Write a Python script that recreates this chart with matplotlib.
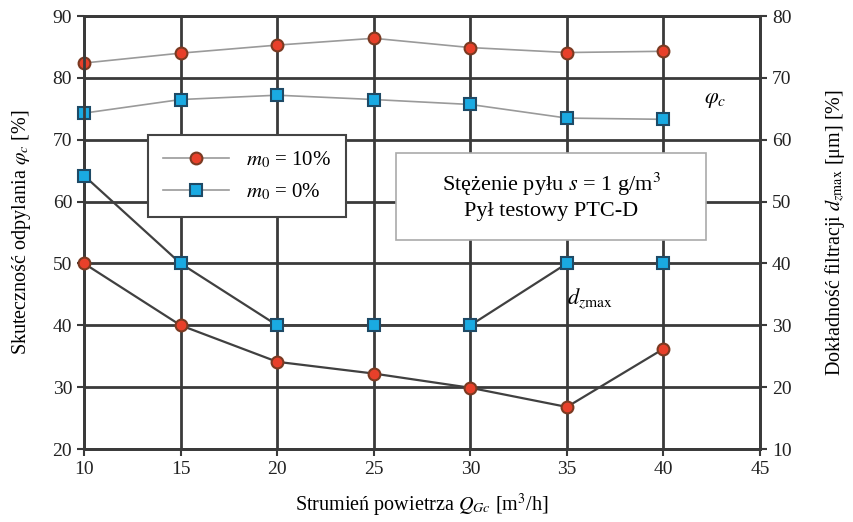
import matplotlib
matplotlib.use("Agg")
import matplotlib.pyplot as plt
from matplotlib.lines import Line2D
from matplotlib.patches import Rectangle

plt.rcParams['font.family'] = ['Liberation Serif', 'DejaVu Serif']
plt.rcParams['mathtext.fontset'] = 'stix'

x = [10, 15, 20, 25, 30, 35, 40]
phi_m10 = [82.4, 84.0, 85.3, 86.4, 84.9, 84.1, 84.3]
phi_m0 = [74.3, 76.5, 77.2, 76.5, 75.7, 73.5, 73.3]
d_m0 = [54.2, 40, 30, 30, 30, 40, 40]
d_m10 = [40, 30, 24.1, 22.2, 19.9, 16.8, 26.2]

red_face = '#E8402A'
red_edge = '#7A3A22'
blue_face = '#1AAAE2'
blue_edge = '#1E4A66'
grid_c = '#3a3a3a'
ms = 8.5

fig = plt.figure(figsize=(8.54, 5.22), dpi=100)
ax = fig.add_axes([0.0984, 0.1398, 0.7916, 0.8295])
ax2 = ax.twinx()

ax.set_xlim(10, 45)
ax.set_ylim(20, 90)
ax2.set_ylim(10, 80)
ax.set_xticks(range(10, 46, 5))
ax.set_yticks(range(20, 91, 10))
ax2.set_yticks(range(10, 81, 10))
ax.grid(True, color=grid_c, linewidth=2)
ax.set_axisbelow(True)

for a in (ax, ax2):
    for s in a.spines.values():
        s.set_color(grid_c)
        s.set_linewidth(2)
    a.tick_params(labelsize=14, color=grid_c, width=1.5, length=5, colors='#222222')

ax.plot(x, phi_m10, color='#9a9a9a', lw=1.2, marker='o', ms=ms,
        mfc=red_face, mec=red_edge, mew=1.5, zorder=3, clip_on=False)
ax.plot(x, phi_m0, color='#9a9a9a', lw=1.2, marker='s', ms=ms,
        mfc=blue_face, mec=blue_edge, mew=1.5, zorder=3, clip_on=False)
ax2.plot(x, d_m0, color='#404040', lw=1.6, marker='s', ms=ms,
         mfc=blue_face, mec=blue_edge, mew=1.5, zorder=3, clip_on=False)
ax2.plot(x, d_m10, color='#404040', lw=1.6, marker='o', ms=ms,
         mfc=red_face, mec=red_edge, mew=1.5, zorder=3, clip_on=False)

ax.set_xlabel(r'Strumień powietrza $Q_{Gc}$ [m$^3$/h]', fontsize=14.5, labelpad=10)
ax.set_ylabel(r'Skuteczność odpylania $\varphi_c$ [%]', fontsize=14.5, labelpad=14)
ax2.set_ylabel(r'Dokładność filtracji $d_{z\mathrm{max}}$ [μm] [%]', fontsize=14.5,
               rotation=90, va='center', ha='center')
ax2.yaxis.set_label_coords(1.111, 0.5)

ax2.text(42.7, 66.4, r'$\varphi_c$', fontsize=16, ha='center', va='center')
ax2.text(36.2, 34.4, r'$d_{z\mathrm{max}}$', fontsize=16, ha='center', va='center')

h1 = Line2D([], [], color='#9a9a9a', lw=1.2, marker='o', ms=ms,
            mfc=red_face, mec=red_edge, mew=1.5)
h2 = Line2D([], [], color='#9a9a9a', lw=1.2, marker='s', ms=ms,
            mfc=blue_face, mec=blue_edge, mew=1.5)
leg = ax2.legend([h1, h2], [r'$m_0$ = 10%', r'$m_0$ = 0%'], loc='upper left',
                 bbox_to_anchor=(0.0947, 0.725), fontsize=15, frameon=True,
                 fancybox=False, edgecolor='#444444', framealpha=1,
                 handlelength=3.2, handletextpad=0.8, borderpad=0.7,
                 labelspacing=0.55, borderaxespad=0)
leg.get_frame().set_linewidth(1.5)
leg.set_zorder(10)

box = Rectangle((0.4615, 0.4827), 0.4585, 0.2009, transform=ax2.transAxes,
                fc='white', ec='#aaaaaa', lw=1.2, zorder=9)
ax2.add_patch(box)
ax2.text(0.691, 0.584, 'Stężenie pyłu $s$ = 1 g/m$^3$\nPył testowy PTC-D',
         transform=ax2.transAxes, fontsize=16, ha='center', va='center',
         linespacing=1.3, zorder=10)

fig.savefig('out.png', dpi=100)
